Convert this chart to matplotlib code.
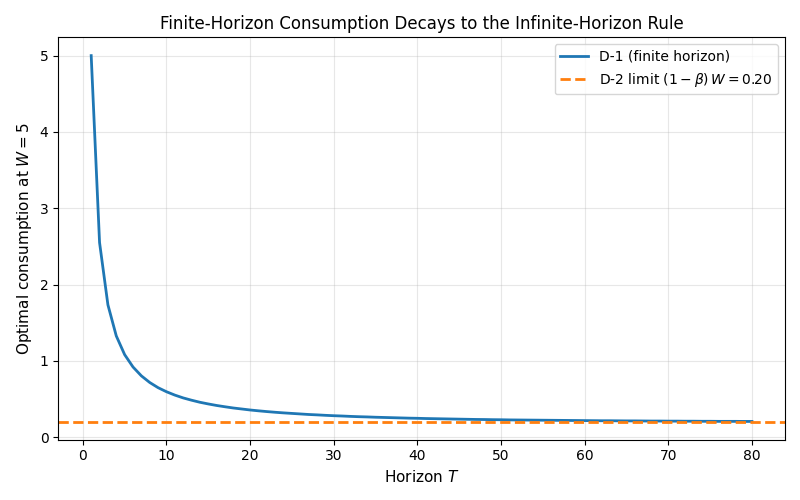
import matplotlib
matplotlib.use("Agg")
import matplotlib.pyplot as plt

# horizon lengths
horizon = [1, 2, 3, 4, 5, 6, 7, 8, 9, 10,
           11, 12, 13, 14, 15, 16, 17, 18, 19, 20,
           21, 22, 23, 24, 25, 26, 27, 28, 29, 30,
           31, 32, 33, 34, 35, 36, 37, 38, 39, 40,
           41, 42, 43, 44, 45, 46, 47, 48, 49, 50,
           51, 52, 53, 54, 55, 56, 57, 58, 59, 60,
           61, 62, 63, 64, 65, 66, 67, 68, 69, 70,
           71, 72, 73, 74, 75, 76, 77, 78, 79, 80]

# optimal first-period consumption for each horizon
consumption = [5.000, 2.551, 1.735, 1.328, 1.083, 0.921, 0.805, 0.718, 0.650, 0.597,
               0.553, 0.516, 0.486, 0.459, 0.437, 0.417, 0.400, 0.384, 0.371, 0.358,
               0.347, 0.337, 0.328, 0.320, 0.313, 0.306, 0.299, 0.294, 0.288, 0.283,
               0.279, 0.274, 0.270, 0.267, 0.263, 0.260, 0.257, 0.254, 0.251, 0.249,
               0.246, 0.244, 0.242, 0.240, 0.238, 0.236, 0.234, 0.233, 0.231, 0.230,
               0.228, 0.227, 0.226, 0.225, 0.224, 0.223, 0.222, 0.221, 0.220, 0.219,
               0.218, 0.217, 0.217, 0.216, 0.215, 0.215, 0.214, 0.213, 0.213, 0.212,
               0.212, 0.211, 0.211, 0.210, 0.210, 0.209, 0.209, 0.209, 0.208, 0.208]

infinite_limit = 0.20

fig, ax = plt.subplots(figsize=(8, 5), dpi=100)
ax.plot(horizon, consumption, color="#1f77b4", lw=2, label="D-1 (finite horizon)")
ax.axhline(infinite_limit, color="#ff7f0e", ls="--", lw=2,
           label=r"D-2 limit $(1-\beta)\,W = 0.20$")

ax.set_title("Finite-Horizon Consumption Decays to the Infinite-Horizon Rule", fontsize=12)
ax.set_xlabel("Horizon $T$", fontsize=11)
ax.set_ylabel("Optimal consumption at $W = 5$", fontsize=11)
ax.grid(True, alpha=0.3)
ax.legend(loc="upper right")

fig.tight_layout()
fig.savefig("out.png")
plt.close(fig)
